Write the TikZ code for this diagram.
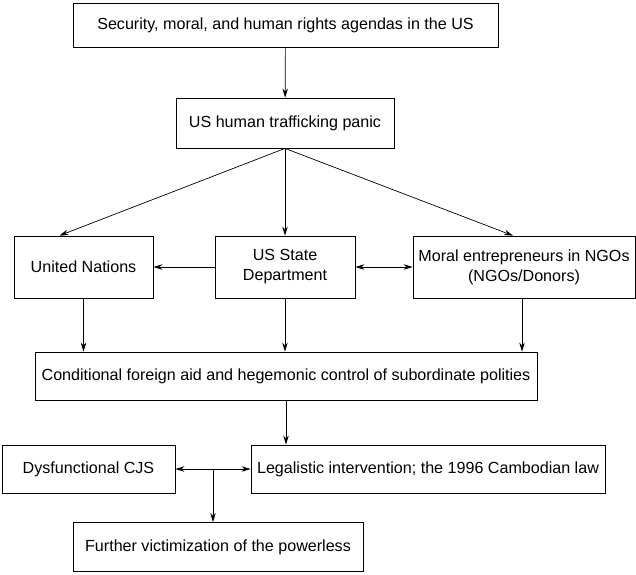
\documentclass[tikz,border=0pt]{standalone}
\usepackage{fontspec}
\setmainfont{Liberation Sans}
\usetikzlibrary{arrows.meta, positioning}

\begin{document}
\begin{tikzpicture}[x=1pt, y=-1pt, font=\fontsize{16.1}{20}\selectfont,
  box/.style={draw, line width=0.8pt, align=center, inner sep=0pt},
  arr/.style={-{Stealth[length=9pt, width=5.5pt]}, line width=0.7pt},
  arrs/.style={{Stealth[length=9pt, width=5.5pt]}-{Stealth[length=9pt, width=5.5pt]}, line width=0.7pt}]
  \useasboundingbox (0,0) rectangle (636,574);
  \node[box, minimum width=425pt, minimum height=44pt] (agenda) at (285.5,25)
    {Security, moral, and human rights agendas in the US};
  \node[box, minimum width=218pt, minimum height=50pt] (panic) at (285,123)
    {US human trafficking panic};
  \node[box, minimum width=139pt, minimum height=62pt] (un) at (83.5,267)
    {United Nations};
  \node[box, minimum width=140pt, minimum height=62pt] (state) at (285,267)
    {US State\\Department};
  \node[box, minimum width=222pt, minimum height=62pt] (ngo) at (524,267)
    {Moral entrepreneurs in NGOs\\(NGOs/Donors)};
  \node[box, minimum width=502pt, minimum height=48pt] (cond) at (286,376)
    {Conditional foreign aid and hegemonic control of subordinate polities};
  \node[box, minimum width=173pt, minimum height=48pt] (cjs) at (88.5,469)
    {Dysfunctional CJS};
  \node[box, minimum width=354pt, minimum height=48pt] (legal) at (428,469)
    {Legalistic intervention; the 1996 Cambodian law};
  \node[box, minimum width=290pt, minimum height=49pt] (victim) at (218,547)
    {Further victimization of the powerless};
  \coordinate (jn) at (213,469);
  % arrows
  \draw[arr] (agenda) -- (panic);
  \draw[arr] (panic.south) -- ([xshift=-24pt]un.north);
  \draw[arr] (panic.south) -- (state.north);
  \draw[arr] (panic.south) -- ([xshift=-11pt]ngo.north);
  \draw[arr] (state) -- (un);
  \draw[arrs] (state) -- (ngo);
  \foreach \n/\dx in {un/0pt, state/0pt, ngo/-2pt}
    \draw[arr] ([xshift=\dx]\n.south) -- ([xshift=\dx]\n.south |- cond.north);
  \draw[arr] (cond.south) -- (cond.south |- legal.north);
  \draw[arrs] (cjs) -- (legal);
  \draw[arr] (jn) -- (jn |- victim.north);
\end{tikzpicture}
\end{document}
